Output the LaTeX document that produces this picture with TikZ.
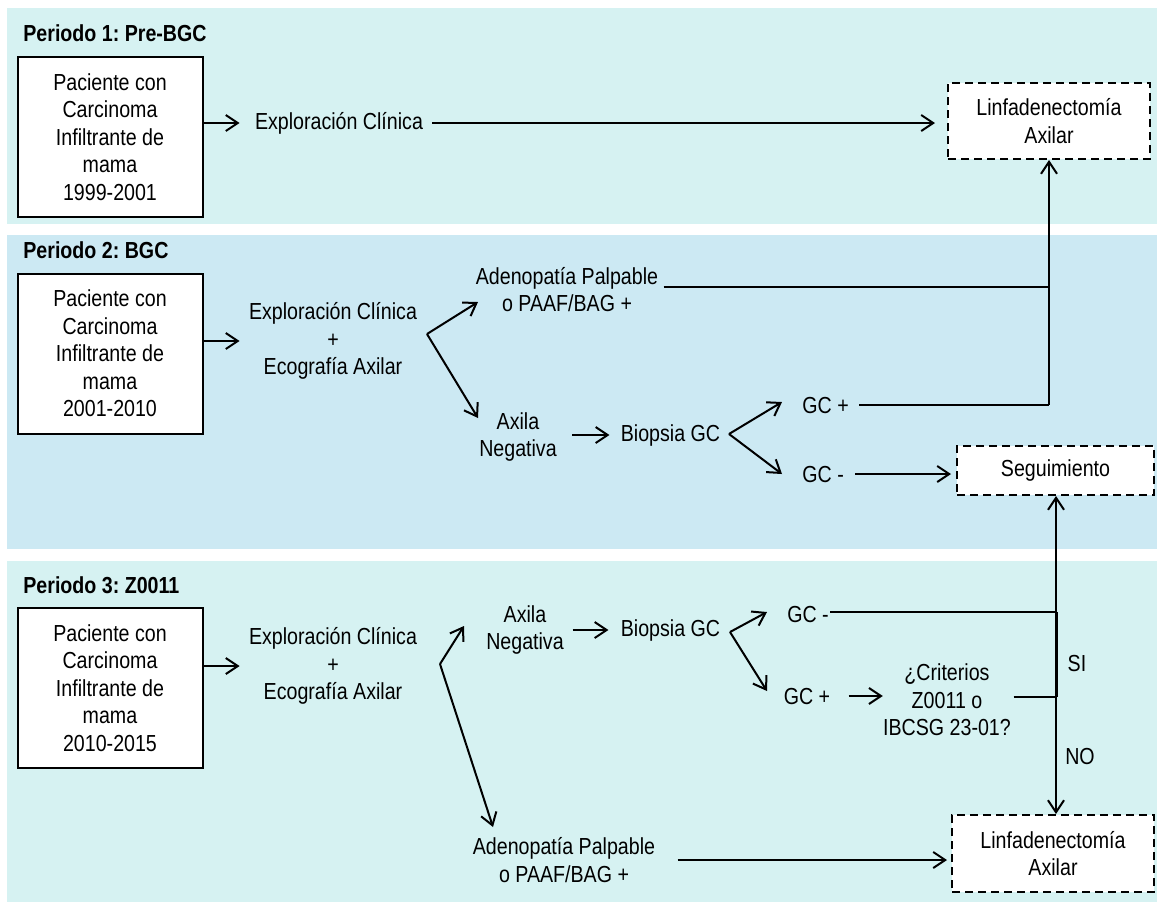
\documentclass[tikz,border=0pt]{standalone}
\usepackage{fontspec}
\setmainfont[FakeStretch=0.846]{Liberation Sans}
\usetikzlibrary{arrows.meta,calc}
\frenchspacing
\newcommand\myfs{\fontsize{11.6pt}{13.75pt}\selectfont\frenchspacing}
\definecolor{bandA}{RGB}{214,242,242}
\definecolor{bandB}{RGB}{204,233,243}
\begin{document}
\begin{tikzpicture}[x=0.5pt,y=-0.5pt,
  txt/.style={inner sep=0pt, font=\myfs, align=center},
  ttl/.style={inner sep=0pt, font=\myfs\bfseries, anchor=west},
  pbox/.style={draw, line width=1pt, fill=white, minimum width=92.5pt, minimum height=80pt, inner sep=0pt, align=center, font=\myfs},
  dbox/.style={draw, line width=1pt, dash pattern=on 4pt off 2.5pt, fill=white, inner sep=0pt, align=center, font=\myfs},
  conn/.style={line width=1pt},
  arr/.style={line width=1pt, -{Straight Barb[length=6pt,width=8pt,line width=1pt]}}
]
\useasboundingbox (0,0) rectangle (1157,902);
% bands
\fill[bandA] (7,8) rectangle (1157,224);
\fill[bandB] (7,235) rectangle (1157,549);
\fill[bandA] (7,561) rectangle (1157,902);

% ---------- Periodo 1 ----------
\node[ttl] (t1) at (23,33) {Periodo 1: Pre-BGC};
\node[pbox] (b1) at (110,137) {Paciente con\\Carcinoma\\Infiltrante de\\mama\\1999-2001};
\node[txt] (e1) at (339,123) {Exploración Clínica};
\node[dbox, minimum width=101pt, minimum height=38pt] (l1) at (1049,121) {Linfadenectomía\\Axilar};
\draw[arr, shorten >=7.5pt] (b1.east |- e1.west) -- (e1.west);
\draw[arr, shorten <=4.5pt, shorten >=6pt] (e1.east) -- (l1.west |- e1.east);

% ---------- Periodo 2 ----------
\node[ttl] (t2) at (23,250) {Periodo 2: BGC};
\node[pbox] (b2) at (110,353.5) {Paciente con\\Carcinoma\\Infiltrante de\\mama\\2001-2010};
\node[txt] (e2) at (333,341) {Exploración Clínica\\+\\Ecografía Axilar};
\draw[arr, shorten >=4.5pt] (b2.east |- e2.west) -- (e2.west);
\node[txt] (a2) at (567,289.5) {Adenopatía Palpable\\o PAAF/BAG +};
\node[txt] (ax2) at (518,437) {Axila\\Negativa};
\coordinate (j2) at (427,334);
\coordinate (a2in) at (478,302);
\coordinate (ax2in) at (478,418);
\draw[arr] (j2) -- (a2in);
\draw[arr] (j2) -- (ax2in);
\node[txt] (bg2) at (670.5,435) {Biopsia GC};
\draw[arr, shorten <=7.5pt, shorten >=5.5pt] (ax2.east |- bg2.west) -- (bg2.west);
\coordinate (jb2) at (729,434);
\node[txt, anchor=west] (gp2) at (802,405) {GC +};
\node[txt, anchor=west] (gm2) at (802,474) {GC -};
\draw[arr] (jb2) -- (782,402) coordinate (gp2in);
\draw[arr] (jb2) -- (782,474) coordinate (gm2in);
\node[dbox, minimum width=98.5pt, minimum height=24.5pt] (seg) at (1055.5,470.5) {Seguimiento};
\draw[arr, shorten <=5.5pt, shorten >=2.5pt] (gm2.east) -- (seg.west |- gm2.east);
\coordinate (k1) at (1049,287);
\coordinate (k2) at (1049,405);
\draw[conn, shorten <=2.5pt] (a2.east |- k1) -- (k1);
\draw[conn, shorten <=5pt] (gp2.east |- k2) -- (k2);
\draw[arr] (k2) -- (l1.south -| k2);

% ---------- Periodo 3 ----------
\node[ttl] (t3) at (23,585) {Periodo 3: Z0011};
\node[pbox] (b3) at (110,688) {Paciente con\\Carcinoma\\Infiltrante de\\mama\\2010-2015};
\node[txt] (e3) at (333,666) {Exploración Clínica\\+\\Ecografía Axilar};
\draw[arr, shorten >=4.5pt] (b3.east |- e3.west) -- (e3.west);
\node[txt] (ax3) at (525,630) {Axila\\Negativa};
\node[txt] (a3) at (564,860) {Adenopatía Palpable\\o PAAF/BAG +};
\coordinate (j3) at (440,664);
\draw[arr] (j3) -- (464,626) coordinate (ax3in);
\draw[arr] (j3) -- (493,827) coordinate (a3in);
\node[txt] (bg3) at (670.5,630) {Biopsia GC};
\draw[arr, shorten <=4.25pt, shorten >=6pt] (ax3.east) -- (bg3.west);
\coordinate (jb3) at (730,632);
\node[txt] (gm3) at (808,614) {GC -};
\node[txt] (gp3) at (807,696) {GC +};
\draw[arr] (jb3) -- (767,612) coordinate (gm3in);
\draw[arr] (jb3) -- (767,691) coordinate (gp3in);
\node[txt] (cr3) at (947,700) {¿Criterios\\Z0011 o\\IBCSG 23-01?};
\draw[arr, shorten <=9pt] (gp3.east) -- (cr3.west |- gp3.east);
\node[dbox, minimum width=101pt, minimum height=38.5pt] (l3) at (1053,853.5) {Linfadenectomía\\Axilar};
\coordinate (k3) at (1056,612);
\coordinate (k4) at (1056,697);
\draw[conn, shorten <=0.5pt] (gm3.east |- k3) -- (k3);
\draw[arr] (k3) -- (seg.south -| k3);
\draw[line width=1.5pt] (k3) -- (k4);
\draw[conn, shorten <=1.25pt] (cr3.east |- k4) -- (k4);
\draw[arr] (k4) -- (l3.north -| k4);
\node[txt] (si) at (1077,663) {SI};
\node[txt] (no) at (1080,756) {NO};
\draw[arr, shorten <=11pt, shorten >=2pt] (a3.east) -- (l3.west |- a3.east);
\end{tikzpicture}
\end{document}
